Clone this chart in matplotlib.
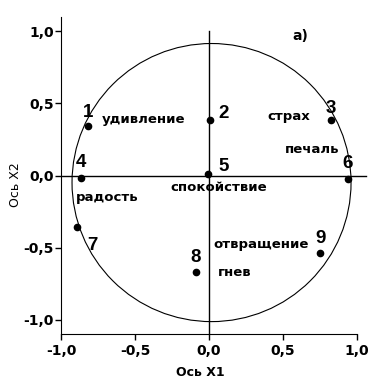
import matplotlib.pyplot as plt
from matplotlib.patches import Ellipse

# factor loadings
point_ids = ["1", "2", "3", "4", "5", "6", "7", "8", "9"]
x1 = [-0.815, 0.009, 0.824, -0.867, -0.005, 0.937, -0.890, -0.088, 0.752]
x2 = [0.345, 0.384, 0.382, -0.016, 0.007, -0.021, -0.356, -0.671, -0.540]
emotions = ["удивление", "", "страх", "радость", "спокойствие", "печаль", "", "гнев", "отвращение"]
tick_vals = [-1.0, -0.5, 0.0, 0.5, 1.0]
tick_labels = ["-1,0", "-0,5", "0,0", "0,5", "1,0"]

# label placement (pixel offsets from the point)
num_offsets = [(0, 13), (13, 7), (0, 12), (0, 15), (15, 8), (0, 15), (15, -19), (0, 15), (0, 15)]
word_offsets = [(13, 6, "left"), None, (-21, 4, "right"), (-5, -20, "left"), (10, -13, "center"),
                (-8, 29, "right"), None, (22, 0, "left"), (-12, 9, "right")]

wide = ['DejaVu Sans']
plt.rcParams['font.family'] = ['Liberation Sans', 'DejaVu Sans']

fig = plt.figure(figsize=(3.74, 3.82), dpi=100)
ax = fig.add_axes([61 / 374, 48 / 382, 309.8 / 374, 317 / 382])
ax.set_xlim(-1.0, 1.093)
ax.set_ylim(-1.1, 1.1)

# unit circle (drawn as it appears on screen)
ax.add_patch(Ellipse((0.017, -0.049), 1.885, 1.93, fill=False, lw=0.8, color="black"))

# zero lines
ax.plot([0, 0], [-1.1, 1.0], color="black", lw=1)
ax.plot([-1.0, 1.06], [0, 0], color="black", lw=1)

ax.plot(x1, x2, "o", color="black", markersize=4.5)

for i in range(len(point_ids)):
    dx, dy = num_offsets[i]
    ax.annotate(point_ids[i], (x1[i], x2[i]), xytext=(dx, dy), textcoords="offset pixels",
                ha="center", va="center", fontsize=13.5, fontweight="bold")
    if emotions[i]:
        wx, wy, ha = word_offsets[i]
        ax.annotate(emotions[i], (x1[i], x2[i]), xytext=(wx, wy), textcoords="offset pixels",
                    ha=ha, va="center", fontsize=9.5, fontweight="bold", family=wide)

ax.text(0.62, 0.97, "а)", ha="center", va="center", fontsize=10, fontweight="bold", family=wide)

ax.spines["top"].set_visible(False)
ax.spines["right"].set_visible(False)
ax.spines["bottom"].set_bounds(-1.0, 1.0)
ax.set_xticks(tick_vals)
ax.set_xticklabels(tick_labels, fontweight="bold", fontsize=10, family=wide)
ax.set_yticks(tick_vals)
ax.set_yticklabels(tick_labels, fontweight="bold", fontsize=10, family=wide)
ax.tick_params(axis="y", direction="out", length=4, width=1, pad=1)
ax.tick_params(axis="x", direction="out", length=4, width=1, pad=3)

ax.set_xlabel("Ось X1", fontsize=9, fontweight="bold", family=wide)
ax.set_ylabel("Ось X2", fontsize=9, family=wide)
ax.xaxis.set_label_coords(0.449, -0.101)
ax.yaxis.set_label_coords(-0.126, 0.47)

plt.savefig("out.png", dpi=100)
